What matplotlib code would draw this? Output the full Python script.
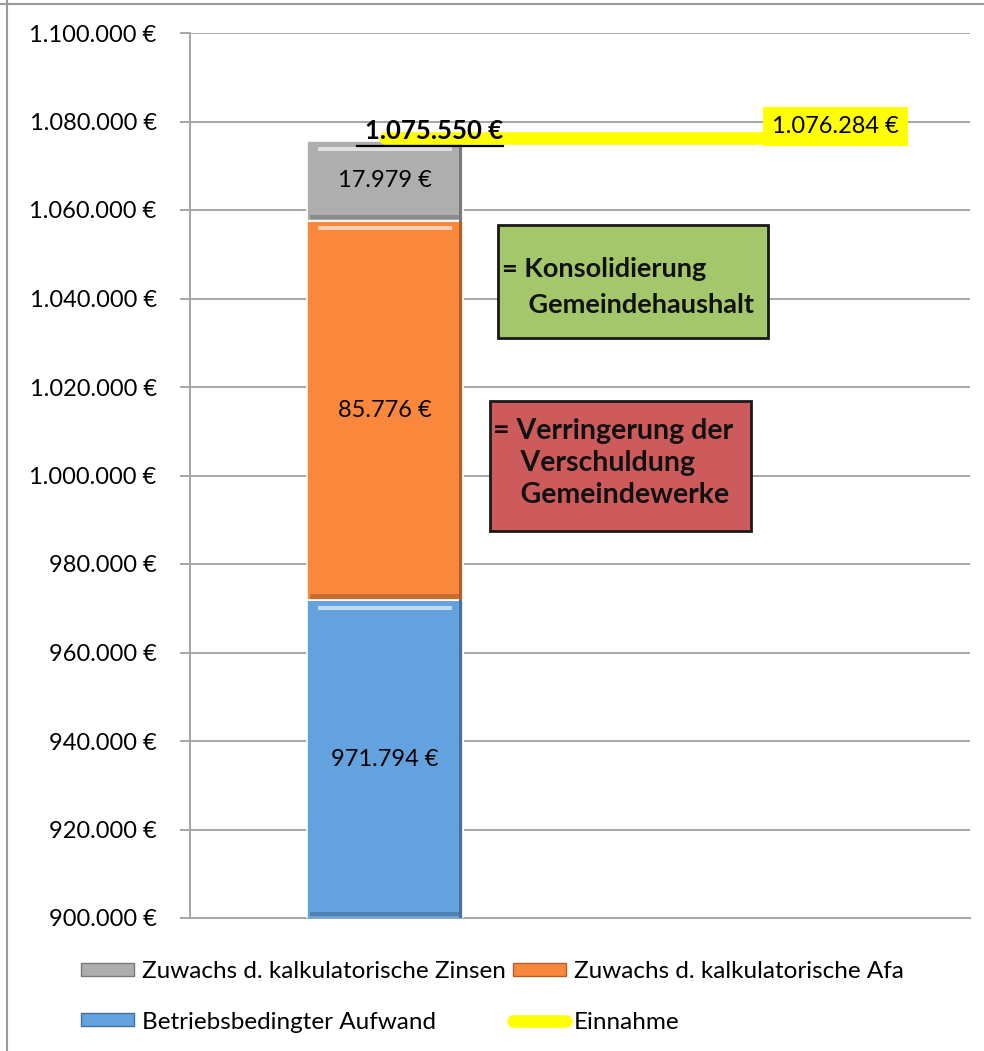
import matplotlib
matplotlib.use('Agg')
import matplotlib.pyplot as plt
from matplotlib.patches import Rectangle
from matplotlib.lines import Line2D
from matplotlib.colors import to_rgb

plt.rcParams['font.family'] = ['Lato', 'DejaVu Sans']

# data
positions = [0, 1]
aufwand = [971794]          # Betriebsbedingter Aufwand
afa = [85776]               # Zuwachs d. kalkulatorische Afa
zinsen = [17979]            # Zuwachs d. kalkulatorische Zinsen
einnahme = [1076284, 1076284]
total_value = 1075550
y_ticks = list(range(900000, 1100001, 20000))

labels = {
    'zinsen': 'Zuwachs d. kalkulatorische Zinsen',
    'afa': 'Zuwachs d. kalkulatorische Afa',
    'aufwand': 'Betriebsbedingter Aufwand',
    'einnahme': 'Einnahme',
}
colors = {'aufwand': '#63A2DF', 'afa': '#F9883C', 'zinsen': '#AEAEAE', 'einnahme': '#FFFF00'}

Y0, Y1 = 900000, 1100000
BAR_W = 0.4


def euro(v):
    return f"{v:,.0f} €".replace(',', '.')


def shade(c, f):
    r, g, b = to_rgb(c)
    if f > 0:
        return (r + (1 - r) * f, g + (1 - g) * f, b + (1 - b) * f)
    return (r * (1 + f), g * (1 + f), b * (1 + f))


fig = plt.figure(figsize=(9.84, 10.51), dpi=100)
ax = fig.add_axes([190 / 984, 1 - 918 / 1051, 780 / 984, 885 / 1051])

# figure frame (top and left only, as in the screenshot)
fig.add_artist(Line2D([0, 1], [1 - 4 / 1051] * 2, color='#9a9a9a', lw=1.5, transform=fig.transFigure))
fig.add_artist(Line2D([7 / 984] * 2, [0, 1], color='#9a9a9a', lw=1.5, transform=fig.transFigure))

segments = [('aufwand', 0, aufwand[0]),
            ('afa', aufwand[0], afa[0]),
            ('zinsen', aufwand[0] + afa[0], zinsen[0])]

strip = (Y1 - Y0) * 0.005
for key, bottom, height in segments:
    c = colors[key]
    ax.bar(positions[0], height, bottom=bottom, width=BAR_W, color=c,
           edgecolor='white', linewidth=1.2, zorder=3)
    top = bottom + height
    vis_bottom = max(bottom, Y0)
    # soft bevel: light line near the top, darker bottom and right edge
    ax.bar(positions[0], strip, bottom=top - 2.2 * strip, width=BAR_W * 0.86,
           color=shade(c, 0.6), zorder=4)
    ax.bar(positions[0], strip, bottom=vis_bottom + 0.4 * strip, width=BAR_W * 0.96,
           color=shade(c, -0.2), zorder=4)
    ax.bar(positions[0] + BAR_W / 2 - 0.01, top - vis_bottom, bottom=vis_bottom,
           width=0.008, align='edge', color=shade(c, -0.3), zorder=4)
    ax.text(positions[0], (vis_bottom + top) / 2, euro(height), ha='center', va='center',
            fontsize=17, color='black', zorder=6)

# Einnahme line
ax.plot(positions, einnahme, color=colors['einnahme'], lw=9, solid_capstyle='round', zorder=5)
ax.text(positions[1] + 0.155, einnahme[1] + 2500, euro(einnahme[1]), ha='center', va='center',
        fontsize=17, zorder=7,
        bbox=dict(boxstyle='square,pad=0.38', facecolor=colors['einnahme'], edgecolor='none'))

# total label, bold and underlined
tot = ax.text(positions[0] + 0.125, 1077900, euro(total_value), ha='center', va='center',
              fontsize=18.5, fontweight='bold', zorder=7)

# axes styling
ax.set_xlim(-0.5, 1.5)
ax.set_ylim(Y0, Y1)
ax.set_yticks(y_ticks)
ax.set_yticklabels([euro(v) for v in y_ticks])
ax.set_xticks([])
ax.yaxis.grid(True, color='#A6A6A6', lw=1.4)
ax.set_axisbelow(True)
for s in ['top', 'right']:
    ax.spines[s].set_visible(False)
ax.spines['left'].set_color('#A6A6A6')
ax.spines['bottom'].set_color('#A6A6A6')
ax.spines['left'].set_linewidth(1.4)
ax.spines['bottom'].set_linewidth(1.4)
ax.tick_params(axis='y', length=7, width=1.4, color='#A6A6A6', labelsize=17, pad=17)

# annotation boxes
ax.add_patch(Rectangle(((498 - 190) / 780, 1 - (338 - 33) / 885),
                       (768 - 498) / 780, (338 - 225) / 885, transform=ax.transAxes,
                       facecolor='#A3C76A', edgecolor='#1a1a1a', lw=2, zorder=8))
ax.text((502 - 190) / 780, 1 - (287 - 33) / 885, '= Konsolidierung\n    Gemeindehaushalt',
        transform=ax.transAxes, ha='left', va='center', fontsize=19.5, fontweight='bold',
        linespacing=1.6, color='#111111', zorder=9)

ax.add_patch(Rectangle(((490 - 190) / 780, 1 - (531 - 33) / 885),
                       (751 - 490) / 780, (531 - 401) / 885, transform=ax.transAxes,
                       facecolor='#CE5B5B', edgecolor='#1a1a1a', lw=2, zorder=8))
ax.text((493 - 190) / 780, 1 - (463 - 33) / 885, '= Verringerung der\n    Verschuldung\n    Gemeindewerke',
        transform=ax.transAxes, ha='left', va='center', fontsize=20.5, fontweight='bold',
        linespacing=1.3, color='#111111', zorder=9)

# legend
handles = [Rectangle((0, 0), 1, 1, facecolor=colors['zinsen'], edgecolor=shade(colors['zinsen'], -0.3)),
           Rectangle((0, 0), 1, 1, facecolor=colors['aufwand'], edgecolor=shade(colors['aufwand'], -0.3)),
           Rectangle((0, 0), 1, 1, facecolor=colors['afa'], edgecolor=shade(colors['afa'], -0.3)),
           Line2D([0], [0], color=colors['einnahme'], lw=9, solid_capstyle='round')]
leg_labels = [labels['zinsen'], labels['aufwand'], labels['afa'], labels['einnahme']]
fig.legend(handles, leg_labels, ncol=2, loc='center left', bbox_to_anchor=(81 / 984, 1 - 997 / 1051),
           frameon=False, fontsize=17.5, handlelength=2.2, handleheight=0.45, handletextpad=0.3,
           columnspacing=0.3, labelspacing=1.2, borderpad=0, borderaxespad=0)

# underline the total label
fig.canvas.draw()
bb = tot.get_window_extent(renderer=fig.canvas.get_renderer())
inv = fig.transFigure.inverted()
(x0, y0), (x1, _) = inv.transform([(bb.x0 - 8, bb.y0 - 3), (bb.x1, bb.y0 - 3)])
fig.add_artist(Line2D([x0, x1], [y0, y0], color='black', lw=1.6, zorder=10))

fig.savefig('out.png', dpi=100)
